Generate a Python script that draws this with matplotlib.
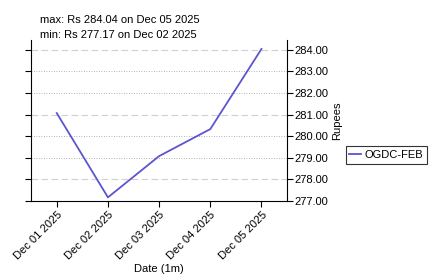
import matplotlib
matplotlib.use("Agg")
import matplotlib.pyplot as plt

dates = ["Dec 01 2025", "Dec 02 2025", "Dec 03 2025", "Dec 04 2025", "Dec 05 2025"]
prices = [281.07, 277.17, 279.08, 280.33, 284.04]
yticks = [277, 278, 279, 280, 281, 282, 283, 284]

plt.rcParams["font.family"] = ["Liberation Sans", "DejaVu Sans"]
plt.rcParams["font.size"] = 8

fig = plt.figure(figsize=(4.33, 2.75), dpi=100)
ax = fig.add_axes([0.072, 0.269, 0.591, 0.586])

x = list(range(len(dates)))
ax.plot(x, prices, color="#5b55cf", lw=1.3, label="OGDC-FEB")

ax.set_xlim(-0.5, 4.5)
ax.set_ylim(277.0, 284.46)
ax.set_xticks(x)
ax.set_xticklabels(dates, rotation=45, ha="right", rotation_mode="anchor")
ax.set_yticks(yticks)
ax.set_yticklabels(["%.2f" % v for v in yticks])
ax.yaxis.tick_right()
ax.yaxis.set_label_position("right")
ax.tick_params(axis="y", which="both", left=True, right=True, length=4, pad=1)
ax.tick_params(axis="x", length=4, pad=2)
ax.set_ylabel("Rupees", labelpad=3)
ax.set_xlabel("Date (1m)", labelpad=2)

for v in yticks:
    if v in (278, 281, 284):
        ax.axhline(v, color="#d0d0d0", lw=0.8, ls=(0, (6, 3)), zorder=0)
    else:
        ax.axhline(v, color="#9a9a9a", lw=0.6, ls=(0, (1, 2)), zorder=0)

ax.spines["top"].set_visible(False)

fig.text(0.092, 0.918, "max: Rs %.2f on %s" % (max(prices), dates[prices.index(max(prices))]))
fig.text(0.092, 0.860, "min: Rs %.2f on %s" % (min(prices), dates[prices.index(min(prices))]))

leg = fig.legend(loc="center left", bbox_to_anchor=(0.798, 0.435), frameon=True,
                 fancybox=False, edgecolor="black", handlelength=1.0,
                 borderpad=0.35, handletextpad=0.4, borderaxespad=0)
leg.get_frame().set_linewidth(0.8)

fig.savefig("out.png", dpi=100)
